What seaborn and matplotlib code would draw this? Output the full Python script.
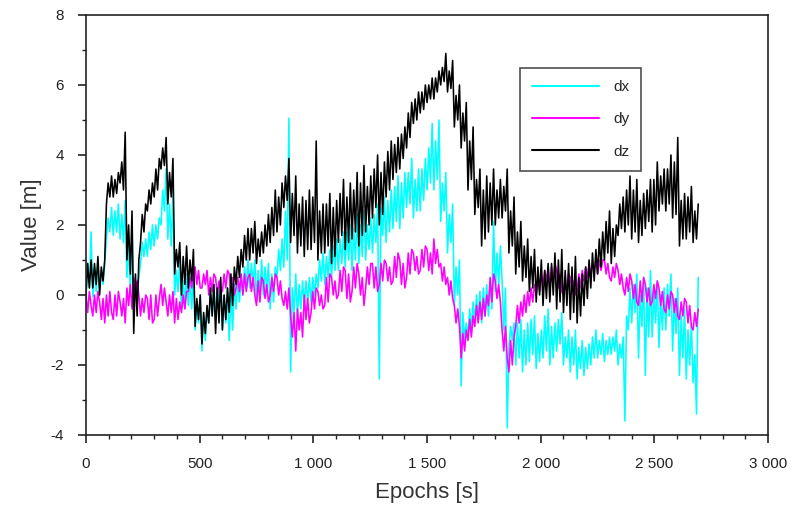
import numpy as np
import pandas as pd
import matplotlib
matplotlib.use("Agg")
import matplotlib.pyplot as plt
from matplotlib.ticker import MultipleLocator, FuncFormatter
import seaborn as sns

# 30 s windows; inside a window the values a, c, d, b sit at +0, +7.5, +15, +22.5 s
epochs = list(range(0, 2700, 30))
offsets = {"a": 0.0, "c": 7.5, "d": 15.0, "b": 22.5}

dx_a = [0.0, -0.05, 0.2, 1.6, 1.7, 1.6, 0.5, -0.2, 0.9, 1.1,
        1.4, 2.0, 1.6, 0.0, -0.4, -0.3, -1.0, -1.6, -0.8, -0.6,
        -1.0, -1.3, -0.4, 0.0, 0.2, -0.2, 0.0, -0.4, 0.5, 0.8,
        -2.2, -0.6, -0.3, -0.2, 0.2, 0.3, 0.5, 0.7, 0.8, 0.7,
        0.9, 1.0, 1.2, -2.4, 1.5, 1.9, 1.9, 2.5, 2.2, 2.4,
        3.0, 3.0, 2.1, 1.2, -0.3, -2.6, -1.2, -0.8, -0.8, -0.6,
        0.1, 0.4, -1.5, -2.0, -2.2, -1.9, -2.1, -1.8, -2.0, -1.6,
        -2.0, -2.2, -2.4, -2.3, -2.0, -1.8, -1.9, -1.7, -2.0, -3.6,
        -0.8, -1.8, -2.3, -1.2, -1.5, -1.0, -1.6, -2.3, -2.4, -2.5]
dx_c = [0.9, 0.8, 0.7, 2.2, 2.4, 2.3, 1.4, 0.3, 1.5, 1.8,
        2.0, 3.0, 2.6, 0.7, 0.4, 0.5, -0.2, -0.6, 0.1, 0.2,
        0.0, 0.1, 0.5, 0.8, 0.9, 0.7, 0.8, 0.6, 1.3, 2.4,
        0.2, 0.3, 0.4, 0.5, 1.0, 1.1, 1.4, 1.6, 1.8, 1.9,
        2.0, 2.0, 2.3, 2.5, 2.7, 3.1, 3.2, 3.5, 3.3, 3.6,
        4.2, 4.4, 3.2, 2.3, 0.8, -0.5, -0.4, 0.0, 0.2, 0.4,
        1.2, -1.0, -0.9, -0.8, -1.0, -0.7, -1.1, -0.6, -0.9, -0.7,
        -1.2, -1.2, -1.5, -1.5, -1.2, -1.3, -1.3, -1.2, -1.4, -0.6,
        0.3, 0.0, 0.2, 0.1, 0.0, 0.3, -0.1, -0.6, -1.0, -1.7]
dx_d = [0.2, 0.1, 0.3, 1.8, 1.8, 1.5, 0.2, 0.0, 1.1, 1.3,
        1.6, 2.4, 1.4, 0.1, -0.2, -0.4, -0.8, -1.3, -0.6, -0.4,
        -0.8, -1.0, -0.2, 0.2, 0.3, 0.0, 0.1, -0.2, 0.7, 1.0,
        -0.5, -0.4, -0.2, 0.0, 0.4, 0.5, 0.7, 0.9, 1.0, 1.0,
        1.1, 1.3, 1.5, 1.7, 1.8, 2.1, 2.2, 2.6, 2.4, 2.7,
        3.2, 3.3, 2.4, 1.5, 0.0, -1.3, -1.0, -0.7, -0.6, -0.4,
        0.3, 0.2, -1.3, -1.8, -2.0, -1.7, -1.9, -1.6, -1.8, -1.4,
        -1.8, -2.0, -2.1, -2.1, -1.8, -1.7, -1.7, -1.6, -1.8, -1.0,
        -0.5, -0.9, -1.2, -0.8, -1.0, -0.6, -1.1, -1.8, -2.0, -3.4]
dx_b = [1.8, 1.0, 0.9, 2.5, 2.6, 2.7, 2.0, 0.5, 1.6, 2.0,
        2.2, 3.6, 3.0, 1.0, 0.6, 0.6, 0.0, -0.4, 0.3, 0.4,
        0.2, 0.3, 0.6, 1.0, 1.0, 1.0, 0.9, 0.8, 1.6, 5.05,
        0.6, 0.4, 0.5, 0.6, 1.2, 1.3, 1.6, 1.8, 2.0, 2.3,
        2.4, 2.2, 2.6, 2.8, 3.0, 3.4, 3.5, 3.9, 3.6, 3.9,
        4.9, 5.0, 3.5, 2.6, 1.0, -0.8, -0.2, 0.1, 0.3, 2.1,
        1.4, -3.8, -0.8, -0.7, -0.8, -0.6, -1.0, -0.4, -0.8, -0.5,
        -1.0, -1.0, -1.3, -1.4, -1.0, -1.1, -1.2, -1.0, -1.2, 0.2,
        0.6, 0.5, 0.7, 0.4, 0.2, 0.6, 0.2, -0.4, -0.8, 0.5]

dy_a = [0.0, -0.6, -0.2, 0.0, -0.7, -0.2, 0.2, 0.5, -0.6, -0.1,
        -0.7, 0.3, -0.6, -0.8, -0.5, 0.1, 0.8, 0.2, 0.0, 0.5,
        0.1, 0.6, 0.2, 0.0, 0.6, -0.3, 0.4, 0.0, 0.5, -0.3,
        -0.6, -0.4, 0.0, -0.5, 0.1, -0.3, 0.5, 0.0, 0.7, 0.1,
        0.6, 0.2, 0.9, 0.3, 0.9, 0.4, 1.0, 0.5, 1.2, 0.7,
        1.3, 1.6, 0.9, 0.5, -0.3, -1.8, -1.3, -0.9, -0.7, -0.3,
        0.4, -1.0, -2.2, -0.9, -0.6, -0.3, 0.0, 0.3, 0.2, 0.7,
        0.0, 0.5, 0.1, 0.4, 0.6, 0.6, 1.0, 0.4, 0.7, 0.0,
        0.4, -0.3, 0.3, -0.2, 0.2, -0.5, 0.0, -0.7, -0.2, -1.0]
dy_c = [-0.5, 0.0, -0.7, -0.6, 0.0, -0.6, -0.3, 0.1, -0.1, -0.7,
        0.0, -0.3, 0.0, -0.1, 0.0, 0.5, 0.3, 0.6, 0.5, 0.0,
        0.6, 0.1, 0.5, 0.6, 0.1, 0.4, -0.1, 0.5, 0.0, 0.1,
        -1.2, -1.0, -0.7, 0.1, -0.3, 0.5, 0.0, 0.7, -0.1, 0.8,
        0.0, 0.8, 0.2, 0.9, 0.4, 1.1, 0.3, 1.2, 0.7, 1.3,
        0.7, 0.9, 0.4, 0.0, -0.8, -1.1, -0.7, -0.3, -0.1, 0.5,
        -0.1, -1.6, -1.3, -0.3, 0.0, 0.2, 0.4, 0.7, 0.8, 0.2,
        0.5, 0.1, 0.6, 0.8, 0.9, 1.0, 0.6, 0.8, 0.3, 0.5,
        -0.1, 0.4, -0.2, 0.3, -0.3, 0.0, -0.5, -0.2, -0.8, -0.5]
dy_d = [0.1, -0.5, -0.1, 0.1, -0.6, -0.1, 0.3, 0.4, -0.5, 0.0,
        -0.6, 0.2, -0.5, -0.7, -0.4, 0.2, 0.7, 0.3, 0.1, 0.4,
        0.2, 0.5, 0.1, 0.1, 0.5, -0.2, 0.3, 0.1, 0.4, -0.4,
        -0.5, -0.5, -0.1, -0.4, 0.0, -0.2, 0.4, 0.1, 0.6, 0.2,
        0.5, 0.3, 0.8, 0.4, 0.8, 0.5, 0.9, 0.6, 1.1, 0.8,
        1.2, 1.3, 0.8, 0.4, -0.4, -1.6, -1.2, -0.8, -0.6, -0.2,
        0.3, -0.9, -2.0, -0.8, -0.5, -0.2, 0.1, 0.4, 0.3, 0.6,
        0.1, 0.4, 0.2, 0.5, 0.7, 0.7, 0.9, 0.5, 0.6, 0.1,
        0.3, -0.2, 0.2, -0.1, 0.1, -0.4, -0.1, -0.6, -0.3, -0.9]
dy_b = [-0.3, 0.1, -0.8, -0.5, 0.1, -0.8, -0.4, 0.0, 0.0, -0.8,
        -0.1, -0.2, 0.1, -0.2, 0.1, 0.6, 0.2, 0.7, 0.6, 0.1,
        0.7, 0.0, 0.6, 0.5, 0.0, 0.5, -0.2, 0.6, -0.1, 0.2,
        -1.6, -1.2, -0.8, 0.2, -0.4, 0.6, -0.1, 0.8, -0.2, 0.9,
        -0.3, 0.9, 0.1, 1.0, 0.3, 1.2, 0.2, 1.3, 0.6, 1.4,
        0.6, 0.8, 0.3, -0.1, -0.9, -1.0, -0.6, -0.2, 0.0, 0.6,
        -0.2, -1.8, -1.2, -0.2, 0.1, 0.3, 0.5, 0.8, 0.9, 0.1,
        0.6, 0.0, 0.7, 0.9, 1.0, 1.0, 0.5, 0.9, 0.2, 0.6,
        -0.2, 0.5, -0.3, 0.4, -0.4, 0.1, -0.6, -0.1, -0.9, -0.4]

dz_a = [0.0, 0.2, 0.0, 2.6, 2.8, 3.2, 1.0, -1.1, 1.5, 2.4,
        2.8, 3.6, 2.6, 0.6, 0.0, 0.2, -0.9, -1.4, -0.8, -1.1,
        -1.0, -0.5, 0.3, 0.8, 1.0, 0.9, 1.2, 1.5, 1.8, 2.5,
        1.5, 1.2, 1.1, 1.3, 1.0, 1.2, 0.9, 1.5, 1.3, 1.6,
        1.4, 1.8, 2.2, 2.0, 2.8, 3.3, 3.6, 4.2, 4.9, 5.2,
        5.5, 5.6, 6.0, 5.8, 4.8, 4.2, 3.0, 2.3, 1.4, 1.8,
        2.0, 2.2, 1.2, 0.6, 0.4, 0.1, -0.2, -0.3, -0.2, -0.4,
        -0.5, -0.7, -0.8, -0.3, 0.2, 0.6, 1.0, 0.9, 1.7, 1.8,
        1.6, 1.5, 1.9, 1.8, 2.4, 2.4, 2.2, 1.4, 1.6, 1.5]
dz_c = [0.9, 0.9, 0.8, 3.2, 3.3, 3.8, 2.0, 0.6, 2.3, 3.0,
        3.6, 4.2, 3.5, 1.3, 1.1, 1.0, -0.1, -0.5, 0.2, 0.2,
        0.0, 0.6, 1.1, 1.7, 1.9, 1.6, 2.0, 2.5, 2.8, 3.4,
        2.9, 2.6, 2.7, 2.8, 2.4, 2.6, 2.5, 2.9, 2.8, 3.0,
        3.2, 3.1, 3.6, 3.5, 4.1, 4.3, 4.6, 5.2, 5.6, 5.8,
        6.0, 6.2, 6.5, 6.4, 5.7, 5.2, 4.4, 3.3, 3.0, 3.2,
        3.0, 3.1, 2.4, 1.8, 1.4, 1.1, 0.8, 0.7, 0.9, 1.0,
        0.7, 0.8, 0.5, 0.8, 1.2, 1.6, 2.1, 1.9, 2.6, 3.0,
        3.0, 2.7, 3.0, 3.3, 3.4, 3.6, 3.8, 2.7, 2.8, 2.4]
dz_d = [0.2, 0.3, 0.4, 2.8, 2.9, 3.0, 0.6, -0.6, 1.8, 2.6,
        3.0, 3.7, 2.8, 0.8, 0.3, 0.4, -0.7, -1.1, -0.6, -0.8,
        -0.7, -0.3, 0.5, 1.0, 1.2, 1.1, 1.4, 1.7, 2.0, 2.7,
        1.7, 1.4, 1.3, 1.5, 1.2, 1.4, 1.1, 1.7, 1.5, 1.8,
        1.7, 2.0, 2.5, 2.3, 3.0, 3.5, 3.9, 4.5, 5.0, 5.3,
        5.6, 5.8, 6.1, 5.9, 5.0, 4.4, 3.3, 2.5, 1.6, 2.0,
        2.2, 2.4, 1.4, 0.8, 0.5, 0.2, 0.0, -0.1, 0.0, -0.2,
        -0.3, -0.5, -0.6, -0.1, 0.4, 0.8, 1.2, 1.1, 1.9, 2.0,
        1.8, 1.7, 2.1, 2.0, 2.6, 2.6, 2.3, 1.6, 1.8, 1.6]
dz_b = [1.0, 1.1, 1.0, 3.4, 3.5, 4.65, 2.4, 1.0, 2.6, 3.2,
        3.9, 4.5, 3.9, 1.5, 1.4, 1.3, 0.0, -0.3, 0.3, 0.5,
        0.2, 0.8, 1.3, 1.9, 2.1, 1.8, 2.3, 3.0, 3.2, 3.9,
        3.4, 2.8, 3.0, 4.4, 2.6, 2.9, 2.7, 3.3, 3.2, 3.5,
        3.7, 3.4, 4.0, 3.8, 4.4, 4.5, 4.8, 5.5, 5.8, 6.0,
        6.2, 6.4, 6.9, 6.7, 6.0, 5.5, 4.8, 3.6, 3.4, 3.6,
        3.3, 3.6, 2.8, 2.1, 1.6, 1.3, 1.0, 0.9, 1.2, 1.3,
        0.9, 1.1, 0.6, 1.0, 1.3, 1.8, 2.4, 2.0, 2.8, 3.4,
        3.3, 2.9, 3.3, 3.8, 3.6, 4.0, 4.5, 2.9, 3.1, 2.6]

series = {
    "dx": {"a": dx_a, "c": dx_c, "d": dx_d, "b": dx_b},
    "dy": {"a": dy_a, "c": dy_c, "d": dy_d, "b": dy_b},
    "dz": {"a": dz_a, "c": dz_c, "d": dz_d, "b": dz_b},
}
colors = {"dx": "#00FFFF", "dy": "#FF00FF", "dz": "#000000"}

# long-form table, seaborn sorts the rows by epoch when drawing
rows = []
for name, parts in series.items():
    for key, vals in parts.items():
        for t, v in zip(epochs, vals):
            rows.append({"epoch": t + offsets[key], "value": v, "component": name})
df = pd.DataFrame(rows)

sns.set_style("ticks")
plt.rcParams["font.family"] = ["Liberation Sans", "DejaVu Sans"]
plt.rcParams["axes.unicode_minus"] = False

fig = plt.figure(figsize=(7.96, 5.22), dpi=100)
ax = fig.add_axes([0.108, 0.1667, 0.857, 0.8046])

sns.lineplot(data=df, x="epoch", y="value", hue="component", palette=colors,
             estimator=None, sort=True, linewidth=1.15, ax=ax)

ax.set_xlim(0, 3000)
ax.set_ylim(-4, 8)
ax.xaxis.set_major_locator(MultipleLocator(500))
ax.xaxis.set_minor_locator(MultipleLocator(100))
ax.yaxis.set_major_locator(MultipleLocator(2))
ax.yaxis.set_minor_locator(MultipleLocator(1))
ax.xaxis.set_major_formatter(FuncFormatter(lambda v, p: f"{v:,.0f}".replace(",", " ")))
ax.yaxis.set_major_formatter(FuncFormatter(lambda v, p: f"{v:.0f}"))
ax.tick_params(which="major", direction="out", length=6, width=1.2, labelsize=11,
               colors="#222222", pad=10)
ax.tick_params(which="minor", direction="out", length=3, width=1.0, colors="#222222")
ax.tick_params(top=False, right=False, which="both")
for side in ["top", "right", "bottom", "left"]:
    ax.spines[side].set_visible(True)
    ax.spines[side].set_linewidth(1.2)
    ax.spines[side].set_color("#222222")

ax.set_xlabel("Epochs [s]", fontsize=16, color="#333333", labelpad=8)
ax.set_ylabel("Value [m]", fontsize=16, color="#333333", labelpad=6)

leg = ax.legend(loc="upper left", bbox_to_anchor=(0.636, 0.874), borderaxespad=0,
                frameon=True, fancybox=False, shadow=False, fontsize=11,
                handlelength=4.4, labelspacing=1.2, borderpad=0.8, handletextpad=0.9)
leg.get_frame().set_edgecolor("#222222")
leg.get_frame().set_linewidth(1.2)
for line in leg.get_lines():
    line.set_linewidth(1.5)

fig.savefig("out.png", dpi=100)
